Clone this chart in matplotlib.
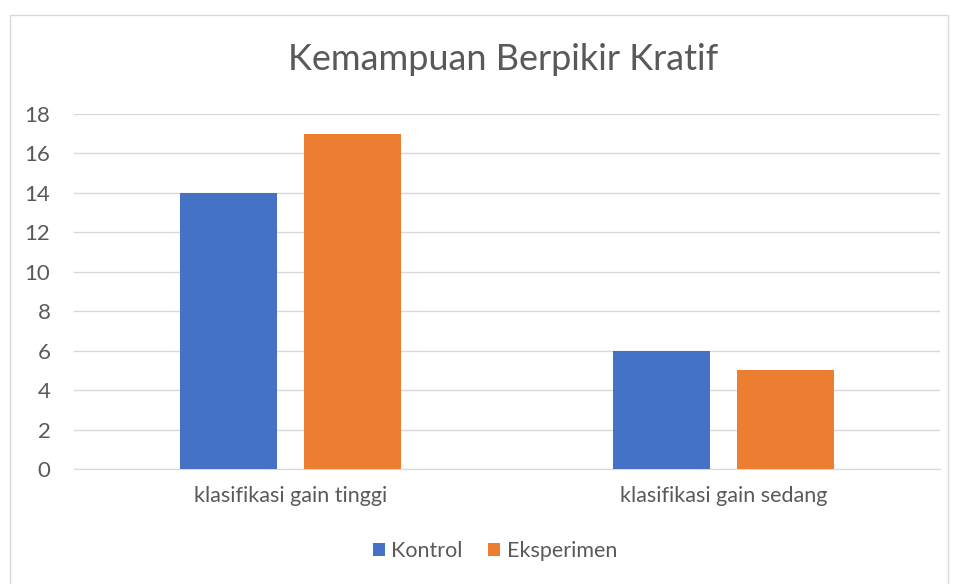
import matplotlib
matplotlib.use("Agg")
import matplotlib.pyplot as plt
import numpy as np
from matplotlib.patches import Rectangle

categories = ["klasifikasi gain tinggi", "klasifikasi gain sedang"]
series_names = ["Kontrol", "Eksperimen"]
kontrol = [14, 6]
eksperimen = [17, 5]
yticks = [0, 2, 4, 6, 8, 10, 12, 14, 16, 18]

colors = ["#4472C4", "#ED7D31"]
plt.rcParams['font.family'] = ['Lato', 'DejaVu Sans']

fig = plt.figure(figsize=(9.57, 5.84), dpi=100)
ax = fig.add_axes([74/957, 1-469/584, 866/957, (469-114)/584])

x = np.arange(len(categories))
w = 0.224
off = 0.143
ax.bar(x - off, kontrol, w, color=colors[0], label=series_names[0], zorder=3)
ax.bar(x + off, eksperimen, w, color=colors[1], label=series_names[1], zorder=3)

ax.set_xlim(-0.5, 1.5)
ax.set_ylim(0, 18)
ax.set_yticks(yticks)
ax.set_xticks(x)
ax.set_xticklabels(categories)
ax.tick_params(axis='x', length=0, labelsize=15.5, colors='#595959', pad=12)
ax.tick_params(axis='y', length=0, labelsize=16, colors='#595959', pad=17)
ax.yaxis.grid(True, color='#D9D9D9', linewidth=1, zorder=0)
for s in ['top', 'right', 'left']:
    ax.spines[s].set_visible(False)
ax.spines['bottom'].set_color('#D9D9D9')

fig.text(503/957, 1-60/584, "Kemampuan Berpikir Kratif", ha='center', va='center',
         fontsize=26, color='#595959')

leg = fig.legend(loc='center', bbox_to_anchor=(495/957, 1-551/584), ncol=2, frameon=False,
                 fontsize=15.5, handlelength=0.55, handleheight=0.55, columnspacing=1.2,
                 handletextpad=0.3, labelcolor='#595959')

fig.patches.append(Rectangle((10/957, -0.01), 938/957, 1-15/584+0.01, transform=fig.transFigure,
                             fill=False, edgecolor='#D9D9D9', linewidth=1))

fig.savefig("out.png", dpi=100)
